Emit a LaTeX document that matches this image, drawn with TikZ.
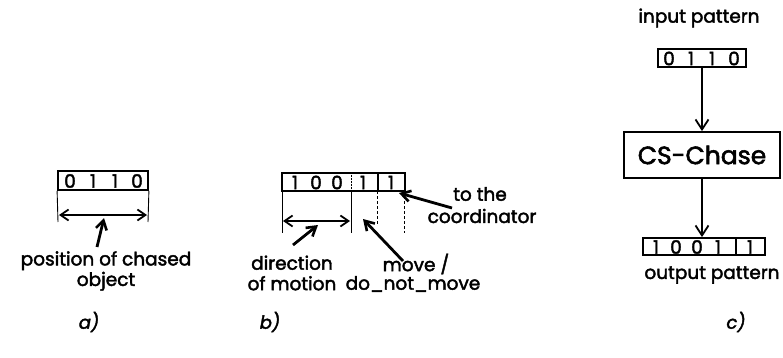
\documentclass[tikz,border=0pt]{standalone}
\usepackage{fontspec}
\setmainfont{Poppins}[FakeBold=2.2]
\usetikzlibrary{arrows.meta}
\begin{document}
\begin{tikzpicture}[x=1pt,y=-1pt,
  cell/.style={draw,line width=1.8pt,inner sep=0pt},
  digit/.style={inner sep=0pt,font=\fontsize{18.5}{18.5}\selectfont},
  lbl/.style={inner sep=0pt,align=center,font=\fontsize{18.5}{20.5}\selectfont},
  guide/.style={line width=0.9pt},
  guidedot/.style={line width=0.6pt,densely dashed},
  span/.style={line width=1.8pt,{Straight Barb[length=8pt,width=11pt,line width=1.8pt]}-{Straight Barb[length=8pt,width=11pt,line width=1.8pt]}},
  point/.style={line width=2.8pt,-{Straight Barb[length=9pt,width=11pt,line width=2.6pt]}},
  flow/.style={line width=1.8pt,-{Straight Barb[length=10pt,width=13pt,line width=1.8pt]}},
  tag/.style={inner sep=0pt,font=\fontsize{18}{18}\selectfont\itshape}]
\useasboundingbox (0,0) rectangle (783,358);

% ---- a) chased object position
\node[cell,minimum width=90pt,minimum height=19pt] (ba) at (103,180.5) {};
\foreach \x/\d [count=\i] in {70/0,93/1,115/1,137/0} \node[digit] (da\i) at (\x,181) {\d};
\coordinate (al) at (ba.south west);
\coordinate (ar) at (ba.south east);
\coordinate (alb) at (58,222);
\coordinate (arb) at (148,222);
\draw[guide] (al) -- (alb);
\draw[guide] (ar) -- (arb);
\coordinate (sa1) at (59,215);
\coordinate (sa2) at (147,215);
\draw[span] (sa1) -- (sa2);
\node[lbl] (la) at (106,271) {position of chased\\object};
\coordinate (pa) at (104,218);
\draw[point] (97,247) -- (pa);
\node[tag] (ta) at (89,322) {a)};

% ---- b) chase signal
\node[cell,minimum width=123pt,minimum height=18pt] (bb) at (343.5,182) {};
\foreach \x/\d [count=\i] in {295/1,316/0,337/0,363/1,391/1} \node[digit] (db\i) at (\x,182.5) {\d};
\draw[line width=0.5pt,densely dotted] (351,173) -- (351,191);
\draw[line width=1.8pt] (378,173) -- (378,191);
\draw[guide] (282,191) -- (282,233);
\draw[guide] (351,191) -- (351,233);
\draw[guidedot] (377,191) -- (377,225);
\draw[guidedot] (404,191) -- (404,233);
\coordinate (sb1) at (283,221);
\coordinate (sb2) at (350,221);
\draw[span] (sb1) -- (sb2);
\node[lbl] (ld) at (292,273) {direction\\of motion};
\node[lbl] (lm1) at (416,264) {move /};
\node[lbl] (lm2) at (413,284) {do\_not\_move};
\node[lbl] (lc1) at (480,194) {to the};
\node[lbl] (lc2) at (482,216) {coordinator};
\draw[point] (293,245) -- (318,225);
\draw[point] (403,261) -- (363,219);
\draw[point] (452,208) -- (399,193);
\node[tag] (tb) at (270,322) {b)};

% ---- c) CS-Chase block
\node[lbl] (lin) at (699,18) {input pattern};
\node[cell,minimum width=88pt,minimum height=18pt] (bin) at (702,58) {};
\foreach \x/\d [count=\i] in {669/0,691/1,712/1,734/0} \node[digit] (dc\i) at (\x,58.5) {\d};
\node[cell,minimum width=156pt,minimum height=46pt,font=\fontsize{25}{25}\selectfont] (cs) at (702,155) {CS-Chase};
\node[cell,minimum width=122pt,minimum height=17pt] (bout) at (704,246.5) {};
\draw[line width=1.8pt] (736,238) -- (736,255);
\foreach \x/\d [count=\i] in {656/1,676/0,697/0,718/1,750/1} \node[digit] (do\i) at (\x,247) {\d};
\node[lbl] (lout) at (712,275) {output pattern};
\draw[flow] (bin.south) -- (cs.north);
\draw[flow] (cs.south) -- (cs.south |- bout.north);
\node[tag] (tc) at (736,322) {c)};
\end{tikzpicture}
\end{document}
